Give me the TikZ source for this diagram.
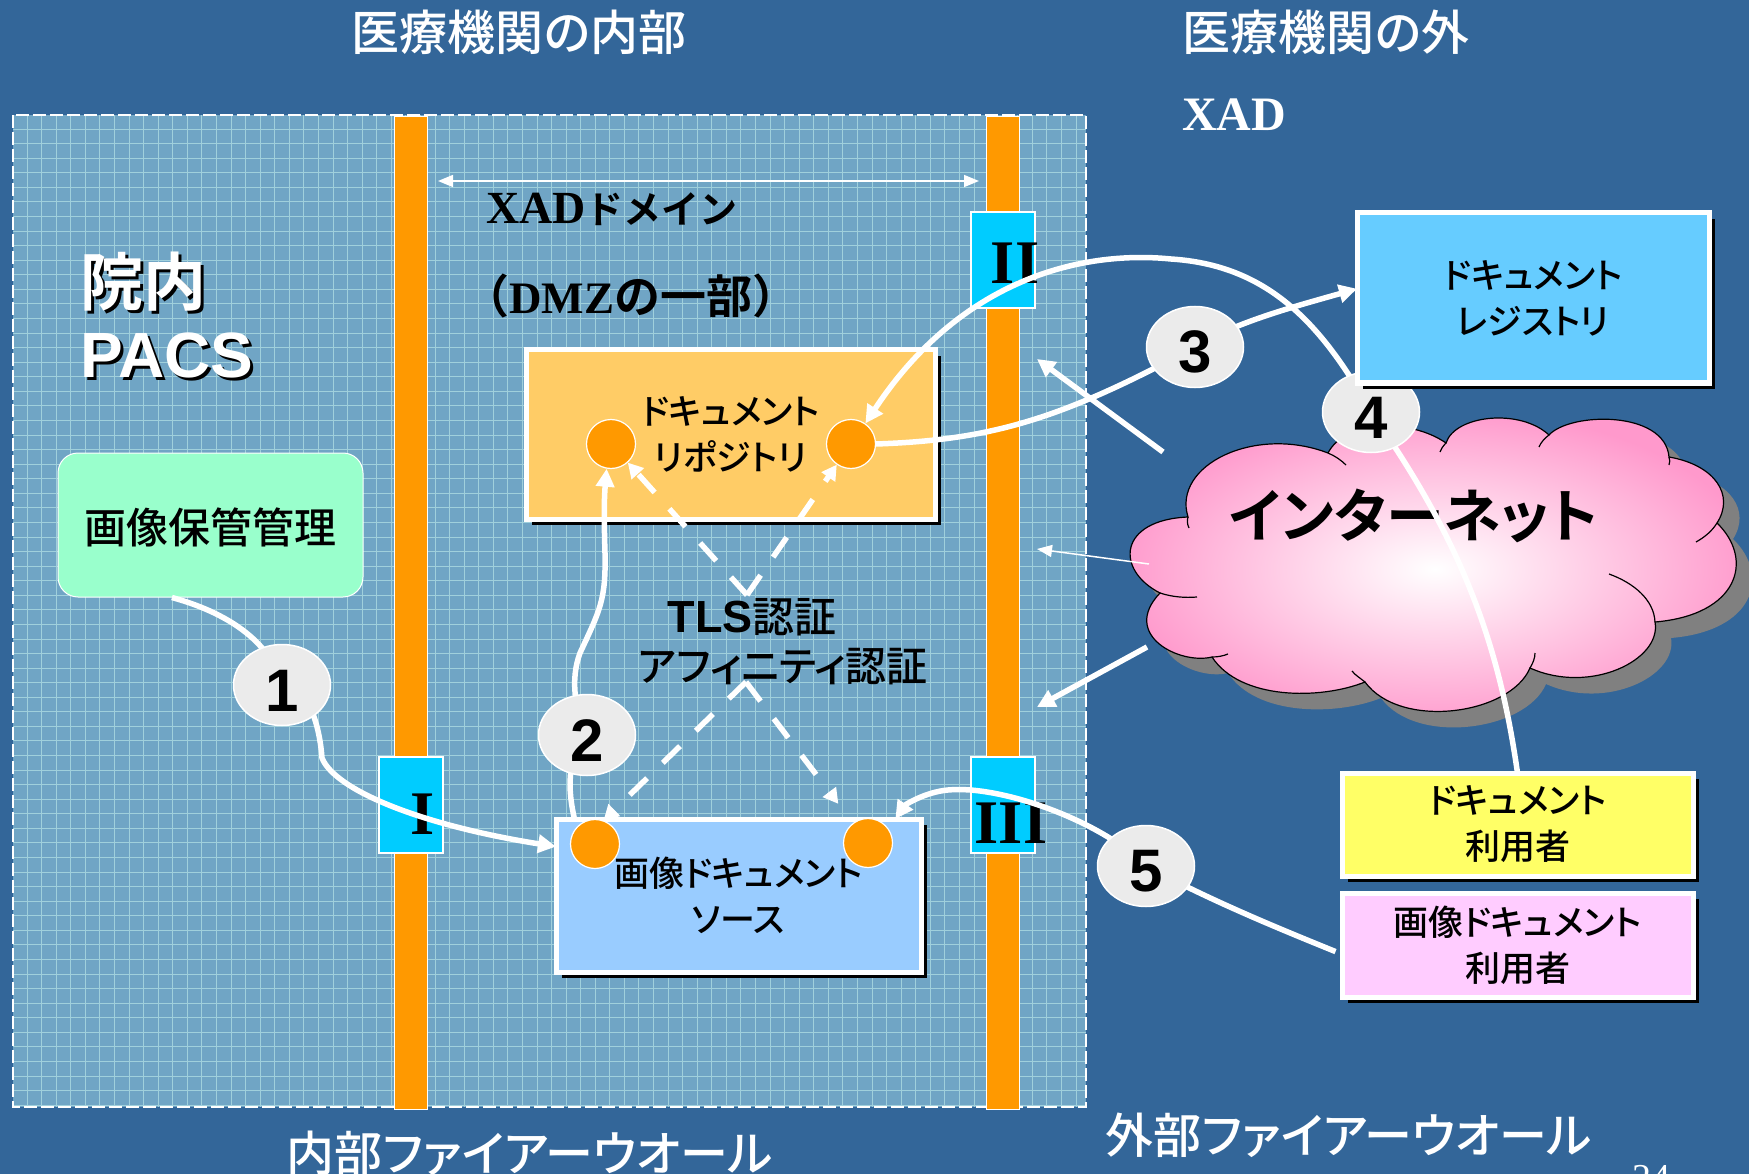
\documentclass[tikz,border=0pt]{standalone}
\usepackage{fontspec}
\setmainfont{Noto Sans CJK JP Medium}[RawFeature=+palt]
\newfontfamily\jpwide{Noto Sans CJK JP}[BoldFont=Noto Sans CJK JP Bold]
\newfontfamily\jpbold{Noto Sans CJK JP Bold}[RawFeature=+palt]
\newfontfamily\latinbold{Liberation Serif}[BoldFont=Liberation Serif Bold]
\newfontfamily\latinsans{Liberation Sans}
\usetikzlibrary{arrows.meta,shapes.geometric,shadows}

\pgfdeclarelayer{front}
\pgfsetlayers{main,front}

\definecolor{pagebg}{HTML}{336699}
\definecolor{panelbg}{HTML}{70A5C5}
\definecolor{gridline}{HTML}{A0D0DC}
\definecolor{fwall}{HTML}{FF9900}
\definecolor{fwgate}{HTML}{00CCFF}
\definecolor{cloudpink}{HTML}{FF99CC}
\definecolor{storefill}{HTML}{99FFCC}
\definecolor{repofill}{HTML}{FFCC66}
\definecolor{sourcefill}{HTML}{99CCFF}
\definecolor{registryfill}{HTML}{66CCFF}
\definecolor{docuserfill}{HTML}{FFFF66}
\definecolor{imguserfill}{HTML}{FFCCFF}

\tikzset{
    docbox/.style={draw=white, line width=5pt, inner sep=0pt, outer sep=0pt, align=center, text=black,
        font=\fontsize{35}{46}\selectfont,
        execute at begin node={\rule{0pt}{36pt}},
        drop shadow={shadow xshift=6pt, shadow yshift=-6pt, fill=black, opacity=1}},
    fwbar/.style={draw=white, line width=1pt, fill=fwall, minimum width=33pt, minimum height=992pt, inner sep=0pt},
    fwbox/.style={draw=white, line width=1.5pt, fill=fwgate, minimum width=64pt, minimum height=96pt, inner sep=0pt},
    numeral/.style={font=\fontsize{62}{62}\selectfont\latinbold\bfseries, text=black, inner sep=0pt},
    stepmark/.style={ellipse, draw=white, line width=1.5pt, fill=black!8, minimum width=97pt, minimum height=81pt,
        inner sep=0pt, text=black, font=\fontsize{60}{60}\selectfont\latinsans\bfseries,
        execute at begin node={\rule{0pt}{52pt}}},
    portdot/.style={circle, draw=white, line width=1.2pt, fill=fwall, minimum size=49pt, inner sep=0pt},
    titletext/.style={text=white, font=\fontsize{48}{48}\selectfont, inner sep=0pt},
    flow/.style={draw=white, line width=5.5pt, -{Triangle[length=18pt,width=18pt]}},
    authflow/.style={draw=white, line width=5.5pt, dash pattern=on 24pt off 22pt, -{Triangle[length=15pt,width=16pt]}},
    thinflow/.style={white, line width=1.5pt},
    cloudline/.style={draw=black, line width=1.2pt},
}

\newcommand{\cloudoutline}{
    (1188,517) .. controls (1172,465) and (1255,425) .. (1328,453)
    .. controls (1345,420) and (1410,418) .. (1446,443)
    .. controls (1455,415) and (1520,408) .. (1549,435)
    .. controls (1570,412) and (1665,410) .. (1669,457)
    .. controls (1715,465) and (1735,495) .. (1717,523)
    .. controls (1755,560) and (1738,615) .. (1655,622)
    .. controls (1662,660) and (1590,695) .. (1530,668)
    .. controls (1510,715) and (1400,730) .. (1365,682)
    .. controls (1320,700) and (1240,700) .. (1212,657)
    .. controls (1180,665) and (1120,635) .. (1160,593)
    .. controls (1115,570) and (1118,520) .. (1188,517) -- cycle
}

\begin{document}
\begin{tikzpicture}[x=1pt, y=-1pt]
    \useasboundingbox (0,0) rectangle (1749,1174);
    \fill[pagebg] (0,0) rectangle (1749,1174);

    % Panel with its grid
    \fill[panelbg] (13,115) rectangle (1086,1107);
    \foreach \gx in {0,...,72}
        \draw[gridline, line width=0.9pt] ({27+14.57*\gx},115) -- ({27+14.57*\gx},1107);
    \foreach \gy in {0,...,67}
        \draw[gridline, line width=0.9pt] (13,{129+14.57*\gy}) -- (1086,{129+14.57*\gy});
    \draw[white, line width=1.5pt, dash pattern=on 13pt off 4pt] (13,115) rectangle (1086,1107);

    % Firewalls
    \node[fwbar] (wallin) at (411,613) {};
    \node[fwbar] (wallout) at (1003,613) {};
    \node[fwbox] (gatea) at (411,805) {};
    \node[fwbox] (gateb) at (1003,260) {};
    \node[fwbox] (gatec) at (1003,805) {};
    \node[numeral] (labela) at (423,814) {I};
    \node[numeral] (labelb) at (1015,263) {II};
    \node[numeral] (labelc) at (1011,823) {III};

    % Titles
    \node[titletext] (titlein) at (519,32) {医療機関の内部};
    \node[titletext] (titleout) at (1326,32) {医療機関の外};
    \node[titletext, font=\fontsize{48}{48}\selectfont\latinbold\bfseries] (xadout) at (1234,115) {XAD};
    \node[titletext] (wallinname) at (530,1153) {内部ファイアーウオール};
    \node[titletext] (walloutname) at (1349,1135) {外部ファイアーウオール};
    \node[text=white, font=\fontsize{38}{38}\selectfont\latinbold, inner sep=0pt] (pageno) at (1651,1178) {24};

    \node[anchor=west, inner sep=0pt, font=\fontsize{38}{38}\selectfont\jpwide\bfseries] (domain) at (486,209) {{\fontsize{46}{46}\selectfont\latinbold\bfseries XAD}ドメイン};
    \node[anchor=west, inner sep=0pt, font=\fontsize{46}{46}\selectfont\jpwide\bfseries] (dmz) at (463,296) {（{\fontsize{45}{45}\selectfont\latinbold\bfseries DMZ}の一部）};

    % PACS label with its shadow
    \node[anchor=west, inner sep=0pt, text=black, font=\fontsize{63}{63}\selectfont\jpbold] (inhouseshadow) at (83,285) {院内};
    \node[anchor=west, inner sep=0pt, text=white, font=\fontsize{63}{63}\selectfont\jpbold] (inhouse) at (80,282) {院内};
    \node[anchor=west, inner sep=0pt, text=black, font=\fontsize{64}{64}\selectfont\latinsans\bfseries] (pacsshadow) at (83,358) {PACS};
    \node[anchor=west, inner sep=0pt, text=white, font=\fontsize{64}{64}\selectfont\latinsans\bfseries] (pacs) at (80,355) {PACS};

    % Boxes
    \node[draw=white, line width=1pt, rounded corners=20pt, fill=storefill, minimum width=305pt, minimum height=144pt,
        inner sep=0pt, text=black, font=\fontsize{42}{42}\selectfont, execute at begin node={\rule{0pt}{41pt}}] (store) at (210.5,525) {画像保管管理};
    \node[docbox, fill=repofill, minimum width=409pt, minimum height=169pt] (repo) at (730.5,434.5) {ドキュメント\\リポジトリ};
    \node[docbox, fill=sourcefill, minimum width=365pt, minimum height=153pt] (source) at (738.5,895.5) {画像ドキュメント\\ソース};
    \node[docbox, fill=docuserfill, minimum width=351pt, minimum height=103pt] (docuser) at (1517.5,824.5) {ドキュメント\\利用者};
    \node[docbox, fill=imguserfill, minimum width=351pt, minimum height=104pt] (imguser) at (1517.5,945) {画像ドキュメント\\利用者};

    % Cloud
    \fill[black!50, shift={(16,16)}] \cloudoutline;
    \shade[inner color=white, outer color=cloudpink] \cloudoutline;
    \draw[cloudline] \cloudoutline;
    \draw[cloudline] (1188,517) .. controls (1187,520) and (1187,524) .. (1189,528);
    \draw[cloudline] (1328,453) .. controls (1335,456) and (1341,460) .. (1346,465);
    \draw[cloudline] (1446,443) .. controls (1443,446) and (1441,449) .. (1440,452);
    \draw[cloudline] (1549,435) .. controls (1545,438) and (1541,442) .. (1539,447);
    \draw[cloudline] (1669,457) .. controls (1670,460) and (1670,462) .. (1669,465);
    \draw[cloudline] (1717,523) .. controls (1712,531) and (1705,537) .. (1696,542);
    \draw[cloudline] (1655,622) .. controls (1654,600) and (1634,583) .. (1609,574);
    \draw[cloudline] (1530,668) .. controls (1533,663) and (1535,658) .. (1535,653);
    \draw[cloudline] (1365,682) .. controls (1360,678) and (1355,675) .. (1352,671);
    \draw[cloudline] (1212,657) .. controls (1218,657) and (1223,656) .. (1228,654);
    \draw[cloudline] (1160,593) .. controls (1172,597) and (1185,598) .. (1197,597);
    \node[inner sep=0pt, text=black, font=\fontsize{58}{58}\selectfont\jpbold] (internet) at (1414,516) {インターネット};

    % Auth labels
    \node[inner sep=0pt, text=black, font=\fontsize{42}{42}\selectfont] (tls) at (752,617) {{\fontsize{45}{45}\selectfont\latinsans\bfseries TLS}認証};
    \node[inner sep=0pt, text=black, font=\fontsize{41}{41}\selectfont] (affinity) at (783,667) {アフィニティ認証};

    % Ports
    \node[portdot] (repoa) at (611,444) {};
    \node[portdot] (repob) at (851,444) {};
    \node[portdot] (sourcea) at (595,844) {};
    \node[portdot] (sourceb) at (868,843) {};

    \coordinate (authtop) at (747,595);
    \coordinate (authlow) at (746,682);
    \draw[authflow] (authtop) -- (repoa);
    \draw[authflow] (authtop) -- (repob);
    \draw[authflow] (authlow) -- (sourcea.70);
    \draw[authflow, shorten >=24pt] (authlow) -- (sourceb);

    % Steps and the registry sit above the flows
    \begin{pgfonlayer}{front}
    \node[stepmark] (stepa) at (282,685) {1};
    \node[stepmark] (stepb) at (587,735) {2};
    \node[stepmark] (stepc) at (1195,347) {3};
    \node[stepmark] (stepd) at (1371,412) {4};
    \node[stepmark] (stepe) at (1146,866) {5};
    \node[docbox, fill=registryfill, minimum width=352pt, minimum height=170pt] (registry) at (1533,298) {ドキュメント\\レジストリ};
    \end{pgfonlayer}

    % Flows
    \draw[flow] (store.242) .. controls (225,612) and (270,640) .. (stepa.center) .. controls (310,685) and (320,730) .. (322,758) .. controls (335,790) and (420,825) .. (source.165.5);
    \draw[flow] (source.155.6) .. controls (568,790) and (566,760) .. (stepb.center) .. controls (575,710) and (570,680) .. (580,653) .. controls (600,610) and (606,600) .. (605,553) .. controls (604,520) and (604,500) .. (repoa.-100);
    \draw[flow] (repob.east) .. controls (990,440) and (1060,420) .. (stepc.center) .. controls (1235,322) and (1300,305) .. (registry.177);
    \draw[flow] (docuser.north) .. controls (1500,650) and (1465,545) .. (stepd.center) .. controls (1320,320) and (1265,265) .. (1171,259) .. controls (1080,250) and (960,280) .. (repob.55);
    \draw[flow, shorten <=7pt] (imguser.183) .. controls (1270,925) and (1210,900) .. (stepe.center) .. controls (1100,820) and (1000,785) .. (948,790) .. controls (925,792) and (905,805) .. (source.26);

    % Domain arrow and firewall arrows
    \coordinate (domainl) at (438,181);
    \coordinate (domainr) at (979,181);
    \draw[thinflow, {Triangle[length=15pt,width=12pt]}-{Triangle[length=15pt,width=12pt]}] (domainl) -- (domainr);
    \coordinate (cloudup) at (1163,452);
    \coordinate (wallup) at (1037,359);
    \coordinate (cloudmid) at (1149,564);
    \coordinate (wallmid) at (1037,549);
    \coordinate (clouddown) at (1147,647);
    \coordinate (walldown) at (1037,707);
    \draw[flow] (cloudup) -- (wallup);
    \draw[thinflow, -{Triangle[length=15pt,width=12pt]}] (cloudmid) -- (wallmid);
    \draw[flow] (clouddown) -- (walldown);
\end{tikzpicture}
\end{document}
